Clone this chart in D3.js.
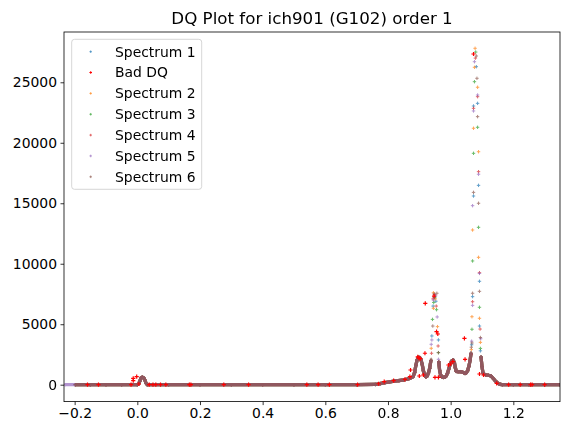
<!DOCTYPE html>
<html>
<head>
<meta charset="utf-8">
<script src="https://cdn.jsdelivr.net/npm/d3@7"></script>
<style>
  body { margin: 0; background: #fff; }
  svg { font-family: "DejaVu Sans", sans-serif; }
</style>
</head>
<body>
<div id="chart"></div>
<script>
// shared continuum (null = spike, drawn as loose points below)
var contWave = [-0.231, -0.198, -0.15, -0.1, -0.05, 0.0, 0.004, 0.008, 0.012, 0.016, 0.020, 0.024, 0.028, 0.032,
  0.1, 0.2, 0.3, 0.4, 0.5, 0.6, 0.7, 0.76, 0.775, 0.79, 0.805, 0.82, 0.835, 0.85, 0.862, 0.872, 0.880,
  0.885, 0.889, 0.893, 0.897, 0.901, 0.905, 0.909, 0.913, 0.917, 0.921, 0.925, 0.929, 0.933, 0.937,
  0.950,
  0.962, 0.965, 0.968, 0.972, 0.977, 0.982, 0.986, 0.990, 0.994, 0.998, 1.003, 1.008, 1.012, 1.015, 1.018,
  1.024, 1.030, 1.036, 1.041, 1.046, 1.050, 1.054, 1.058, 1.062, 1.065,
  1.080,
  1.097, 1.100, 1.103, 1.106, 1.112, 1.120, 1.128, 1.133, 1.138, 1.143, 1.148, 1.153, 1.158, 1.165,
  1.2, 1.25, 1.3, 1.349];
var contFlux = [0, 0, 0, 0, 0, 0, 60, 300, 560, 620, 580, 380, 120, 0,
  0, 0, 0, 0, 0, 0, 0, 20, 90, 170, 230, 290, 340, 400, 460, 540, 660,
  1000, 1600, 2050, 2260, 2250, 2100, 1700, 1150, 800, 650, 700, 950, 1350, 2000,
  null,
  1900, 1150, 800, 650, 600, 630, 720, 950, 1300, 1650, 1950, 2050, 1800, 1400, 1100,
  1075, 1075, 1060, 1000, 930, 980, 1150, 1500, 2000, 2600,
  null,
  2300, 1500, 1000, 880, 810, 780, 730, 600, 450, 300, 180, 90, 30, 0,
  0, 0, 0, 0];

// first wavelength of each spectrum (spectrum 5 starts further left)
var waveStart = [-0.198, -0.198, -0.198, -0.198, -0.231, -0.198];

// loose points on the two spikes, per spectrum
var spike1 = [[0.940, 4030], [0.944, 6500], [0.948, 7200], [0.953, 6900], [0.961, 3700],
  [1.067, 3300], [1.070, 7280], [1.073, 15600], [1.073, 23040], [1.082, 26290], [1.086, 23260],
  [1.089, 16480], [1.092, 8550], [1.092, 4850], [1.095, 2800]];
var spike2 = [[0.938, 3010], [0.945, 7600], [0.945, 6315], [0.951, 7100], [0.958, 4800],
  [1.066, 2900], [1.068, 5620], [1.070, 12790], [1.073, 21200], [1.076, 26240], [1.078, 27810],
  [1.086, 24590], [1.089, 19260], [1.089, 10530], [1.092, 5490], [1.095, 3500]];
var spike3 = [[0.942, 5400], [0.946, 6800], [0.950, 7250], [0.955, 6200], [0.961, 2650],
  [1.068, 4580], [1.070, 10230], [1.073, 19130], [1.076, 25050], [1.080, 27500], [1.086, 21280],
  [1.089, 13010], [1.092, 6400], [1.095, 3000]];
var spike4 = [[0.939, 2600], [0.944, 7100], [0.949, 7450], [0.954, 6500], [0.960, 3200],
  [1.066, 2500], [1.070, 6860], [1.073, 22850], [1.079, 27000], [1.086, 23810], [1.089, 17610],
  [1.092, 9260], [1.094, 4600]];
var spike5 = [[0.938, 3340], [0.940, 3700], [0.945, 7000], [0.952, 7350], [0.957, 5600], [0.961, 2100],
  [1.067, 3600], [1.070, 6560], [1.070, 14800], [1.073, 22630], [1.076, 26700], [1.086, 23950],
  [1.089, 17400], [1.092, 9200], [1.096, 3800]];
var spike6 = [[0.938, 2100], [0.943, 4850], [0.947, 7500], [0.956, 7560], [0.961, 2650],
  [1.066, 3100], [1.068, 3450], [1.070, 7560], [1.073, 15900], [1.082, 27175], [1.084, 25330],
  [1.086, 22160], [1.089, 15000], [1.092, 7720], [1.095, 3900]];
var spikes = [spike1, spike2, spike3, spike4, spike5, spike6];

// pixels flagged by the DQ array
var badWave = [-0.159, -0.124, -0.020, -0.013, -0.013, -0.002, 0.005, 0.038, 0.050, 0.059, 0.074, 0.091,
  0.166, 0.171, 0.276, 0.355, 0.541, 0.577, 0.613, 0.703, 0.770, 0.788, 0.818, 0.854, 0.870, 0.872,
  0.895, 0.899, 0.903, 0.900, 0.913, 0.918, 0.919, 0.947, 0.950, 0.955, 0.959, 0.961, 0.993, 1.000,
  1.007, 1.044, 1.046, 1.073, 1.092, 1.105, 1.147, 1.185, 1.222, 1.255, 1.260, 1.300];
var badFlux = [0, 0, 0, 530, 330, 660, 60, 0, 0, 0, 0, 0,
  0, 0, 0, 0, 0, 0, 0, 0, 80, 250, 330, 445, 660, 1215,
  2300, 2200, 2150, 720, 800, 2600, 6730, 7330, 610, 4380, 4190, 610, 1630, 1710,
  1900, 3830, 2100, 27340, 885, 800, 115, 0, 0, 0, 0, 0];

var seriesNames = ["Spectrum 1", "Spectrum 2", "Spectrum 3", "Spectrum 4", "Spectrum 5", "Spectrum 6"];
var seriesColors = ["#1f77b4", "#ff7f0e", "#2ca02c", "#d62728", "#9467bd", "#8c564b"];
var xTicks = [-0.2, 0.0, 0.2, 0.4, 0.6, 0.8, 1.0, 1.2];
var yTicks = [0, 5000, 10000, 15000, 20000, 25000];

var W = 569, H = 435;
var margin = {left: 64, top: 32, right: 9, bottom: 33.4};
var w = W - margin.left - margin.right,
    h = H - margin.top - margin.bottom;

var svg = d3.select("#chart").append("svg")
  .attr("width", W)
  .attr("height", H);

svg.append("defs").append("clipPath").attr("id", "plot-clip")
  .append("rect").attr("width", w).attr("height", h);

var g = svg.append("g").attr("transform", `translate(${margin.left},${margin.top})`);

var x = d3.scaleLinear().domain([-0.234, 1.349]).range([0, w]);
var y = d3.scaleLinear().domain([-1397, 29158]).range([h, 0]);

var plus = "M-1.7,0H1.7M0,-1.7V1.7";
var plusBig = "M-2.1,0H2.1M0,-2.1V2.1";

var plot = g.append("g").attr("clip-path", "url(#plot-clip)");

var line = d3.line()
  .defined((d) => d[1] != null)
  .x((d) => x(d[0]))
  .y((d) => y(d[1]));

seriesNames.forEach((name, i) => {
  var cont = contWave.map((wv, j) => [wv, contFlux[j]])
    .filter((d) => d[0] >= waveStart[i]);
  var grp = plot.append("g").attr("class", "spec").attr("opacity", 0.7);

  grp.append("path")
    .datum(cont)
    .attr("d", line)
    .attr("fill", "none")
    .attr("stroke", seriesColors[i])
    .attr("stroke-width", 3.2)
    .attr("stroke-linejoin", "round");

  var pts = cont.filter((d) => d[1] != null).concat(spikes[i]);
  grp.selectAll("path.pt")
    .data(pts)
    .enter().append("path")
    .attr("class", "pt")
    .attr("d", plus)
    .attr("transform", (d) => `translate(${x(d[0])},${y(d[1])})`)
    .attr("stroke", seriesColors[i])
    .attr("stroke-width", 1)
    .attr("fill", "none");
});

// bad DQ on top so it stays visible
plot.append("g").selectAll("path")
  .data(badWave.map((wv, j) => [wv, badFlux[j]]))
  .enter().append("path")
  .attr("d", plusBig)
  .attr("transform", (d) => `translate(${x(d[0])},${y(d[1])})`)
  .attr("stroke", "#ff0000")
  .attr("stroke-width", 1.2)
  .attr("fill", "none");

// axes
var xAxis = g.append("g")
  .attr("transform", `translate(0,${h})`)
  .call(d3.axisBottom(x).tickValues(xTicks).tickFormat(d3.format(".1f")).tickSizeInner(3.5).tickSizeOuter(0).tickPadding(3.5));
var yAxis = g.append("g")
  .call(d3.axisLeft(y).tickValues(yTicks).tickFormat(d3.format("d")).tickSizeInner(3.5).tickSizeOuter(0).tickPadding(3.5));

[xAxis, yAxis].forEach((ax) => {
  ax.select(".domain").remove();
  ax.selectAll("line").attr("stroke", "#000").attr("stroke-width", 0.8);
  ax.selectAll("text").attr("font-size", "13.9px").attr("fill", "#000")
    .attr("font-family", "DejaVu Sans, sans-serif");
});

g.append("rect")
  .attr("width", w).attr("height", h)
  .attr("fill", "none").attr("stroke", "#000").attr("stroke-width", 0.8);

svg.append("text")
  .attr("x", margin.left + w / 2)
  .attr("y", 24)
  .attr("text-anchor", "middle")
  .attr("font-size", "16.7px")
  .text("DQ Plot for ich901 (G102) order 1");

// legend: Spectrum 1, Bad DQ, Spectrum 2..6
var legendItems = [{label: seriesNames[0], color: seriesColors[0], bad: false},
  {label: "Bad DQ", color: "#ff0000", bad: true}]
  .concat(seriesNames.slice(1).map((n, i) => ({label: n, color: seriesColors[i + 1], bad: false})));

var legend = svg.append("g").attr("transform", "translate(71.7,39.3)");
legend.append("rect")
  .attr("width", 130).attr("height", 150)
  .attr("rx", 2.8)
  .attr("fill", "#fff").attr("fill-opacity", 0.8)
  .attr("stroke", "#cccccc").attr("stroke-width", 0.8);

var rows = legend.selectAll("g.row")
  .data(legendItems)
  .enter().append("g")
  .attr("class", "row")
  .attr("transform", (d, i) => `translate(0,${12.4 + i * 20.85})`);

rows.append("path")
  .attr("d", "M-1.3,0H1.3M0,-1.3V1.3")
  .attr("transform", "translate(19,0)")
  .attr("stroke", (d) => d.color)
  .attr("stroke-opacity", (d) => d.bad ? 1 : 0.7)
  .attr("stroke-width", (d) => d.bad ? 1.1 : 0.9)
  .attr("fill", "none");

rows.append("text")
  .attr("x", 43.3)
  .attr("dy", "0.35em")
  .attr("font-size", "13.9px")
  .text((d) => d.label);
</script>
</body>
</html>
